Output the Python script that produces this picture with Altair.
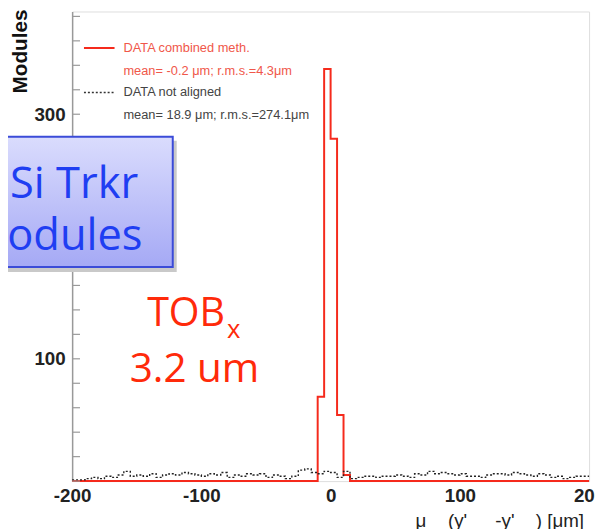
import altair as alt
import pandas as pd

# ---- data ----
bin_low = list(range(-200, 200, 5))          # 80 bins, 5 um wide
red_counts = [0, 0, 0, 0, 0, 0, 0, 0, 0, 0,
              0, 0, 0, 0, 0, 0, 0, 0, 0, 0,
              0, 0, 0, 0, 0, 0, 0, 0, 0, 0,
              0, 0, 0, 0, 0, 0, 0, 0, 69, 337,
              280, 54, 5, 0, 0, 0, 0, 0, 0, 0,
              0, 0, 0, 0, 0, 0, 0, 0, 0, 0,
              0, 0, 0, 0, 0, 0, 0, 0, 0, 0,
              0, 0, 0, 0, 0, 0, 0, 0, 0, 0]
black_counts = [1, 1, 2, 3, 2, 4, 3, 5, 8, 4,
                5, 4, 6, 3, 5, 6, 5, 7, 6, 5,
                4, 6, 5, 7, 3, 5, 4, 6, 5, 6,
                3, 5, 4, 2, 4, 9, 10, 7, 6, 8,
                7, 3, 8, 2, 3, 4, 4, 3, 4, 4,
                5, 4, 3, 6, 5, 8, 6, 7, 6, 5,
                6, 4, 4, 3, 5, 6, 6, 5, 7, 6,
                5, 4, 6, 5, 3, 4, 2, 3, 4, 4]
x_tick_labels = [-200, -100, 0, 100, 200]
y_label_values = [100, 200, 300]
y_tick_values = list(range(0, 381, 20))

legend_lines = ["DATA combined meth.", "mean= -0.2 \u03bcm; r.m.s.=4.3\u03bcm",
                "DATA not aligned", "mean= 18.9 \u03bcm; r.m.s.=274.1\u03bcm"]

W, H = 524, 476
FONT = "Liberation Sans"
RED = "#f52a1c"


def step_df(counts):
    return pd.DataFrame({"x": bin_low + [200], "y": counts + [counts[-1]]})


xscale = alt.Scale(domain=[-200, 200], nice=False, zero=False)
yscale = alt.Scale(domain=[0, 384], nice=False, zero=False)
xaxis = alt.Axis(
    values=x_tick_labels, tickSize=0, domain=False, grid=False, title="",
    labelExpr="'' + datum.value",
    labelFont=FONT, labelFontSize=19, labelFontWeight="bold", labelColor="#222",
    labelPadding=6, labelFlush=False, labelOverlap=False)
yaxis = alt.Axis(
    values=y_label_values, tickSize=0, grid=False, title="",
    domainColor="#999", domainWidth=1.5,
    labelFont=FONT, labelFontSize=19, labelFontWeight="bold", labelColor="#222",
    labelPadding=7, labelOverlap=False)

X = alt.X("x:Q", scale=xscale, axis=xaxis)
Y = alt.Y("y:Q", scale=yscale, axis=yaxis)

red = alt.Chart(step_df(red_counts)).mark_line(
    interpolate="step-after", color=RED, strokeWidth=2).encode(x=X, y=Y)

black = alt.Chart(step_df(black_counts)).mark_line(
    interpolate="step-after", color="#222", strokeWidth=1.4, strokeDash=[2, 2]
).encode(x=X, y=Y)

ticks = alt.Chart(pd.DataFrame({"y": y_tick_values})).mark_rule(
    color="#999", strokeWidth=1.2
).encode(y=Y, x=alt.value(0), x2=alt.value(8))


def text(t, x, y, **kw):
    return alt.Chart(pd.DataFrame({"t": [t]})).mark_text(**kw).encode(
        text="t:N", x=alt.value(x), y=alt.value(y))


def rule(x1, x2, y, **kw):
    return alt.Chart(pd.DataFrame({"a": [0]})).mark_rule(**kw).encode(
        x=alt.value(x1), x2=alt.value(x2), y=alt.value(y))


leg_kw = dict(font=FONT, fontSize=13, align="left", baseline="middle")
legend = [
    rule(12, 43, 37, color=RED, strokeWidth=2),
    text(legend_lines[0], 52, 37, color="#f0574a", **leg_kw),
    text(legend_lines[1], 52, 60, color="#f0574a", **leg_kw),
    rule(12, 43, 82, color="#333", strokeWidth=1.5, strokeDash=[2, 2]),
    text(legend_lines[2], 52, 82, color="#444", **leg_kw),
    text(legend_lines[3], 52, 105, color="#444", **leg_kw),
]

ytitle = text("Modules", -52, -2, font=FONT, fontSize=21, fontWeight="bold",
              color="#111", angle=270, align="right", baseline="middle")

xt_kw = dict(font=FONT, fontSize=19, color="#222", align="left", baseline="alphabetic")
xsub_kw = dict(font=FONT, fontSize=13, color="#222", align="left", baseline="alphabetic")
xtitle = [
    text("\u03bc", 348, 523, **xt_kw),
    text("1/2", 359, 536, **xsub_kw),
    text("(y'", 381, 523, **xt_kw),
    text("pred", 403, 536, **xsub_kw),
    text("-y'", 429, 523, **xt_kw),
    text("hit", 450, 536, **xsub_kw),
    text(") [\u03bcm]", 470, 523, **xt_kw),
]

box_df = pd.DataFrame({"a": [0]})
shadow = alt.Chart(box_df).mark_rect(color="#c9c9c9").encode(
    x=alt.value(-100), x2=alt.value(106), y=alt.value(131), y2=alt.value(264))
box = alt.Chart(box_df).mark_rect(
    fill=alt.Gradient(gradient="linear", x1=0, y1=0, x2=0, y2=1,
                      stops=[alt.GradientStop(color="#dadcfd", offset=0),
                             alt.GradientStop(color="#a5a9f5", offset=1)]),
    stroke="#3b4bd8", strokeWidth=2,
).encode(x=alt.value(-103), x2=alt.value(102), y=alt.value(127), y2=alt.value(259))

BLUE = "#1f3ef2"
SLIDE = "Open Sans"
box_text = [
    text("Si Trkr", 2, 189, font=SLIDE, fontSize=44, color=BLUE, align="center",
         baseline="alphabetic"),
    text("Modules", -17, 242, font=SLIDE, fontSize=44, color=BLUE, align="center",
         baseline="alphabetic"),
]

TRED = "#ff2a0a"
tob = [
    text("TOB", 155, 319, font=SLIDE, fontSize=40, color=TRED, align="right",
         baseline="alphabetic"),
    text("x", 157, 331, font=SLIDE, fontSize=26, color=TRED, align="left",
         baseline="alphabetic"),
    text("3.2 um", 124, 376, font=SLIDE, fontSize=41, color=TRED, align="center",
         baseline="alphabetic"),
]

chart = alt.layer(
    red, black, ticks, *legend, ytitle, *xtitle, shadow, box, *box_text, *tob
).properties(
    width=W, height=H,
    autosize=alt.AutoSizeParams(type="none"),
    padding={"left": 65, "top": 0, "right": 6, "bottom": 45},
).configure_view(stroke="#999", strokeWidth=1.2, fill="white").configure(background="white")

chart.save("out.html", embed_options={"renderer": "svg", "actions": False})
